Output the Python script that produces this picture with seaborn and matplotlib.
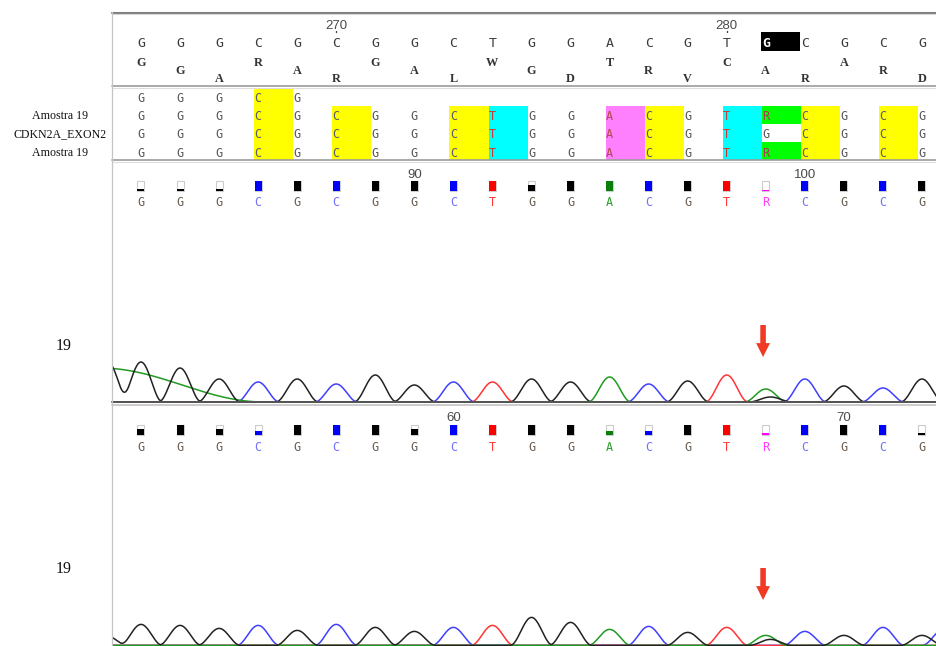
import numpy as np
import pandas as pd
import matplotlib
matplotlib.use("Agg")
import matplotlib.pyplot as plt
import seaborn as sns

# ---------------------------------------------------------------- data
ref_first_pos = 265                          # reference coordinate of column 0
consensus = list("GGGCGCGGCTGGACGTGCGCG")
frame_aa = list("GGARARGALWGDTRVCARARD")     # three-frame translation, one letter per column
cursor_col = 16

align_labels = ["", "Amostra 19", "CDKN2A_EXON2", "Amostra 19"]
align_seqs = [
    "GGGCG",
    "GGGCGCGGCTGGACGTRCGCG",
    "GGGCGCGGCTGGACGTGCGCG",
    "GGGCGCGGCTGGACGTRCGCG",
]

read_names = ["19", "19"]
read_first_pos = [83, 52]
read1_calls = "GGGCGCGGCTGGACGTRCGCG"
read2_calls = "GGGCGCGGCTGGACGTRCGCG"
read1_quality = [0.25, 0.25, 0.25, 1, 1, 1, 1, 1, 1, 1, 0.65, 1, 1, 1, 1, 1, 0.15, 1, 1, 1, 1]
read2_quality = [0.6, 1, 0.6, 0.4, 1, 1, 1, 0.6, 1, 1, 1, 1, 0.4, 0.4, 1, 1, 0.15, 1, 1, 1, 0.2]

# chromatogram peaks: column, dye, signal
read1_peak_col = [-0.85, 0, 1, 2, 3, 4, 5, 6, 7, 8, 9, 10, 11, 12, 13, 14, 15, 16, 16.12, 17, 18, 19, 20]
read1_peak_dye = list("GGGGCGCGGCTGGACGTAGCGCG")
read1_peak_signal = [40, 40, 34, 23, 20, 23, 18, 27, 17, 20, 20, 23, 20, 25, 18, 21, 27, 13, 5, 23, 16, 14, 23]
# broad dye blob at the start of read 1 (A channel)
read1_blob_col = -1.05
read1_blob_signal = 34
read1_blob_halfwidth = 4.2

read2_peak_col = [-0.9, 0, 1, 2, 3, 4, 5, 6, 7, 8, 9, 10, 11, 12, 13, 14, 15, 16, 16.12, 17, 18, 19, 20, 20.55]
read2_peak_dye = list("GGGGCGCGGCTGGACGTAGCGCGC")
read2_peak_signal = [10, 21, 20, 17, 20, 15, 21, 18, 14, 18, 20, 28, 23, 16, 19, 13, 18, 10, 6, 14, 10, 18, 10, 16]

variant_col = 16

# ---------------------------------------------------------------- layout
W, H, DPI = 937, 646, 100
PX_COL0, PX_STEP = 141.0, 39.05
PANEL_LEFT_PX = 112


def col_of(px):
    return (px - PX_COL0) / PX_STEP


X_LEFT, X_RIGHT = col_of(0), col_of(W)
X_PANEL = col_of(PANEL_LEFT_PX)
PEAK_HALF = 0.55

trace_colors = {"G": "#222222", "A": "#219a21", "T": "#ff3434", "C": "#3f3fff"}
call_colors = {"G": "#6b5d50", "A": "#2f9e2f", "T": "#ff3a3a", "C": "#7272ff", "R": "#ff3cff"}
square_colors = {"G": "#000000", "A": "#0b7d0b", "T": "#ff0000", "C": "#0000ff", "R": "#ff00ff"}
highlight = {"C": "#ffff00", "T": "#00ffff", "A": "#ff80ff", "R": "#00ff00"}
align_text = {"G": "#575757", "C": "#5a5a72", "T": "#c83a3a", "A": "#b04a4a", "R": "#a83a5a"}
RED = "#f03a24"
DRAW_ORDER = ["C", "T", "A", "G"]

MONO = ["DejaVu Sans Mono"]
SERIF = ["Liberation Serif", "DejaVu Serif"]
SANS = ["Liberation Sans", "DejaVu Sans"]

sns.set_theme(style="white")
plt.rcParams["font.family"] = ["DejaVu Sans"]

fig = plt.figure(figsize=(W / DPI, H / DPI), dpi=DPI)
fig.patch.set_facecolor("white")


def bump(x, center, half):
    d = np.clip(np.abs(x - center) / half, 0, 1)
    return np.cos(d * np.pi / 2) ** 2


def trace_table(cols, dyes, signals, blob=None):
    grid = np.linspace(X_PANEL, X_RIGHT, 1600)
    parts = []
    for dye in DRAW_ORDER:
        y = np.zeros_like(grid)
        for c, d, s in zip(cols, dyes, signals):
            if d == dye:
                y += s * bump(grid, c, PEAK_HALF)
        if blob is not None and blob[0] == dye:
            y += blob[2] * bump(grid, blob[1], blob[3])
        parts.append(pd.DataFrame({"col": grid, "signal": y, "dye": dye}))
    return pd.concat(parts, ignore_index=True)


def draw_traces(rect, ylim, table):
    ax = fig.add_axes(rect)
    # one call per dye so the stacking order is explicit (black trace on top)
    for z, dye in enumerate(DRAW_ORDER):
        sub = table[table["dye"] == dye]
        sns.lineplot(data=sub, x="col", y="signal", color=trace_colors[dye],
                     estimator=None, legend=False, linewidth=1.1, ax=ax)
        ax.lines[-1].set_zorder(2 + z)
    ax.set_xlim(X_PANEL, X_RIGHT)
    ax.set_ylim(*ylim)
    ax.set_axis_off()
    return ax


# chromatogram panels (baseline of read 1 at y=402 px, read 2 at the bottom edge)
t1 = trace_table(read1_peak_col, read1_peak_dye, read1_peak_signal,
                 blob=("A", read1_blob_col, read1_blob_signal, read1_blob_halfwidth))
draw_traces([PANEL_LEFT_PX / W, (H - 404) / H, (W - PANEL_LEFT_PX) / W, 82 / H], (-2, 80), t1)
t2 = trace_table(read2_peak_col, read2_peak_dye, read2_peak_signal)
draw_traces([PANEL_LEFT_PX / W, 0, (W - PANEL_LEFT_PX) / W, 53 / H], (-0.6, 52.4), t2)

# overlay for text, boxes and rules (pixel rows on y)
ax = fig.add_axes([0, 0, 1, 1])
ax.set_facecolor("none")
ax.set_xlim(X_LEFT, X_RIGHT)
ax.set_ylim(H, 0)
ax.set_axis_off()

cols = np.arange(len(consensus))
frac_panel = PANEL_LEFT_PX / W

# rules
ax.axhline(12.5, xmin=frac_panel, color="#808080", lw=1.5)
ax.axhline(14.3, xmin=frac_panel, color="#d8d8d8", lw=0.8)
for yy in (86.0, 160.0):
    ax.axhline(yy, xmin=frac_panel, color="#9c9c9c", lw=1.2)
    ax.axhline(yy + 1.6, xmin=frac_panel, color="#dedede", lw=0.8)
ax.axhline(402.2, xmin=frac_panel, color="#555555", lw=1.4)
ax.axhline(405.0, xmin=frac_panel, color="#cccccc", lw=1.4)
ax.axvline(X_PANEL, ymin=0, ymax=1 - 12 / H, color="#c4c4c4", lw=0.9)

# reference ruler
for c in cols:
    pos = ref_first_pos + c
    if pos % 10 == 0:
        ax.text(c, 29, str(pos), ha="center", va="baseline", family=SANS,
                fontsize=9.5, color="#4a4a4a")
        ax.plot([c, c], [30.8, 32.3], color="#404040", lw=1.0)

# consensus and cursor
ax.bar(cursor_col - 0.12, 19, bottom=32, width=1.0, align="edge", color="black", lw=0)
for c, b in zip(cols, consensus):
    sel = c == cursor_col
    ax.text(c, 47, b, ha="center", va="baseline", family=MONO, fontsize=9.5,
            fontweight="bold" if sel else "normal",
            color="white" if sel else "#3c3c3c")

# three-frame translation
frame_base = [65.5, 73.5, 81.5]
for c, aa in zip(cols, frame_aa):
    ax.text(c, frame_base[c % 3], aa, ha="center", va="baseline", family=SERIF,
            fontsize=8.8, fontweight="bold", color="#333333")

# alignment block
row_top = [87.5 + 18 * i for i in range(len(align_seqs))]
row_base = [101.5, 120.0, 138.5, 157.0]
for r, seq in enumerate(align_seqs):
    for c, b in enumerate(seq):
        if b in highlight:
            ax.bar(c - 0.1, 18, bottom=row_top[r], width=1.0, align="edge",
                   color=highlight[b], lw=0)
        ax.text(c, row_base[r], b, ha="center", va="baseline", family=MONO,
                fontsize=8.5, color=align_text[b])
    if align_labels[r]:
        ax.text(col_of(60), row_base[r] - 1, align_labels[r], ha="center",
                va="baseline", family=SERIF, fontsize=8.6, color="#111111")

# base calls with quality squares
tracks = [
    dict(first=read_first_pos[0], calls=read1_calls, qual=read1_quality,
         num_base=177.5, sq_bottom=191, call_base=206.5, name_base=350, arrow=(325, 357)),
    dict(first=read_first_pos[1], calls=read2_calls, qual=read2_quality,
         num_base=421.0, sq_bottom=434.5, call_base=451.0, name_base=573, arrow=(568, 600)),
]
SQ_W, SQ_H = 7 / PX_STEP, 10
for t, name in zip(tracks, read_names):
    for c in cols:
        pos = t["first"] + c
        if pos % 10 == 0:
            ax.text(c, t["num_base"], str(pos), ha="center", va="baseline",
                    family=SANS, fontsize=9.5, color="#4a4a4a")
    calls = list(t["calls"])
    ax.bar(cols, -SQ_H, bottom=t["sq_bottom"], width=SQ_W, color="white",
           edgecolor="#cdcdcd", lw=0.8)
    ax.bar(cols, [-q * SQ_H for q in t["qual"]], bottom=t["sq_bottom"], width=SQ_W,
           color=[square_colors[b] for b in calls], lw=0)
    for c, b in zip(cols, calls):
        ax.text(c, t["call_base"], b, ha="center", va="baseline", family=MONO,
                fontsize=8.5, color=call_colors[b])
    ax.text(col_of(64), t["name_base"], name, ha="center", va="baseline",
            family=SERIF, fontsize=11.5, color="#111111")
    tail, tip = t["arrow"]
    ax.annotate("", xy=(variant_col - 0.07, tip), xytext=(variant_col - 0.07, tail),
                arrowprops=dict(arrowstyle="simple,head_length=10,head_width=10,tail_width=4",
                                mutation_scale=1, fc=RED, ec=RED, lw=0,
                                shrinkA=0, shrinkB=0))

fig.savefig("out.png", dpi=DPI, facecolor="white")
